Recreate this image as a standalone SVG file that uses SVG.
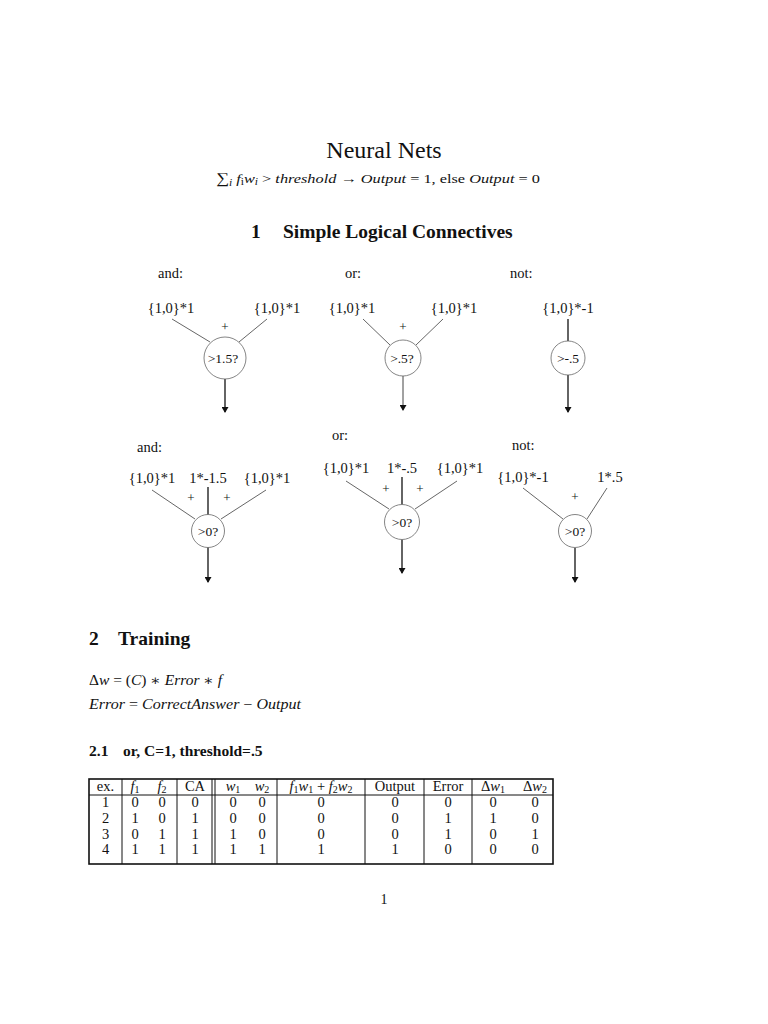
<svg xmlns="http://www.w3.org/2000/svg" width="768" height="1024" viewBox="0 0 768 1024">
<defs>
<style>
text{font-family:"Liberation Serif","DejaVu Serif",serif;fill:#111}
.lbl{font-size:14.5px;text-anchor:middle}
.ctr{font-size:13.5px;text-anchor:middle}
.cap{font-size:14.5px}
.plus{font-size:13px;text-anchor:middle}
.neu{fill:#fff;stroke:#666;stroke-width:0.8}
.in{stroke:#555;stroke-width:0.9;fill:none}
.vin{stroke:#111;stroke-width:1.3;fill:none}
.out{stroke:#111;stroke-width:1.3;fill:none;marker-end:url(#ah)}
.h1{font-size:19.5px;font-weight:bold}
.h2{font-size:15.5px;font-weight:bold}
.m{font-style:italic}
.tb{font-size:14.5px;text-anchor:middle}
.grid{stroke:#111;stroke-width:1;fill:none}
</style>
<marker id="ah" markerWidth="6" markerHeight="7" refX="5" refY="3.5" orient="auto" markerUnits="userSpaceOnUse">
<path d="M0,0 L6,3.5 L0,7 Z" fill="#111"/>
</marker>
</defs>
<rect width="768" height="1024" fill="#fff"/>

<text x="384" y="158" text-anchor="middle" font-size="24">Neural Nets</text>
<text x="216" y="183" font-size="13.5" textLength="324" lengthAdjust="spacingAndGlyphs"><tspan font-size="15">∑</tspan><tspan class="m" font-size="9.5" dy="3">i</tspan><tspan class="m" dy="-3"> f</tspan><tspan font-size="9.5" dy="2">i</tspan><tspan class="m" dy="-2">w</tspan><tspan class="m" font-size="9.5" dy="2">i</tspan><tspan dy="-2"> &gt; </tspan><tspan class="m">threshold</tspan><tspan> → </tspan><tspan class="m">Output</tspan><tspan> = 1, else </tspan><tspan class="m">Output</tspan><tspan> = 0</tspan></text>

<text class="h1" x="251" y="238">1</text>
<text class="h1" x="283" y="238">Simple Logical Connectives</text>

<!-- captions -->
<text class="cap" x="158" y="278">and:</text>
<text class="cap" x="345" y="278">or:</text>
<text class="cap" x="510" y="278">not:</text>
<text class="cap" x="137" y="452">and:</text>
<text class="cap" x="332" y="440">or:</text>
<text class="cap" x="512" y="450">not:</text>

<g id="connectors">
<line class="in" x1="172" y1="319" x2="210" y2="342"/>
<line class="in" x1="267" y1="319" x2="239" y2="342"/>
<line class="out" x1="225" y1="379" x2="225" y2="412"/>

<line class="in" x1="363" y1="319" x2="390" y2="345"/>
<line class="in" x1="443" y1="319" x2="416" y2="345"/>
<line class="out" x1="403" y1="376" x2="403" y2="410" style="stroke:#444;stroke-width:1"/>

<line class="vin" x1="568" y1="319" x2="568" y2="341"/>
<line class="out" x1="568" y1="375" x2="568" y2="412"/>

<line class="in" x1="152" y1="490" x2="195" y2="519"/>
<line class="in" x1="266" y1="490" x2="221" y2="519"/>
<line class="vin" x1="208" y1="487" x2="208" y2="515"/>
<line class="out" x1="208" y1="547" x2="208" y2="582"/>

<line class="in" x1="346" y1="481" x2="389" y2="509"/>
<line class="in" x1="457" y1="481" x2="415" y2="509"/>
<line class="vin" x1="402" y1="477" x2="402" y2="504.5"/>
<line class="out" x1="402" y1="539.5" x2="402" y2="573"/>

<line class="in" x1="523" y1="488" x2="563" y2="519"/>
<line class="in" x1="607" y1="488" x2="587" y2="519"/>
<line class="out" x1="575" y1="548" x2="575" y2="582"/>
</g>

<g id="and1">
<text class="lbl" x="171" y="313">{1,0}*1</text>
<text class="lbl" x="277" y="313">{1,0}*1</text>
<text class="plus" x="225" y="331">+</text>
<circle class="neu" cx="225" cy="358" r="21"/>
<text class="ctr" x="223" y="363">&gt;1.5?</text>
</g>
<g id="or1">
<text class="lbl" x="352" y="313">{1,0}*1</text>
<text class="lbl" x="454" y="313">{1,0}*1</text>
<text class="plus" x="403" y="331">+</text>
<circle class="neu" cx="403" cy="358" r="18"/>
<text class="ctr" x="402" y="363">&gt;.5?</text>
</g>
<g id="not1">
<text class="lbl" x="568" y="313">{1,0}*-1</text>
<circle class="neu" cx="568" cy="358" r="17"/>
<text class="ctr" x="568" y="363">&gt;-.5</text>
</g>

<g id="and2">
<text class="lbl" x="152" y="483">{1,0}*1</text>
<text class="lbl" x="208" y="483">1*-1.5</text>
<text class="lbl" x="267" y="483">{1,0}*1</text>
<text class="plus" x="191" y="502">+</text>
<text class="plus" x="227" y="502">+</text>
<circle class="neu" cx="208" cy="531" r="16.5"/>
<text class="ctr" x="208" y="535.5">&gt;0?</text>
</g>
<g id="or2">
<text class="lbl" x="346" y="473">{1,0}*1</text>
<text class="lbl" x="402" y="473">1*-.5</text>
<text class="lbl" x="460" y="473">{1,0}*1</text>
<text class="plus" x="386" y="493">+</text>
<text class="plus" x="420" y="493">+</text>
<circle class="neu" cx="402" cy="522" r="17.5"/>
<text class="ctr" x="402" y="526.5">&gt;0?</text>
</g>
<g id="not2">
<text class="lbl" x="523" y="482">{1,0}*-1</text>
<text class="lbl" x="610" y="482">1*.5</text>
<text class="plus" x="575" y="501">+</text>
<circle class="neu" cx="575" cy="531" r="16.5"/>
<text class="ctr" x="575" y="535.5">&gt;0?</text>
</g>

<text class="h1" x="89" y="645">2</text>
<text class="h1" x="118" y="645">Training</text>
<text x="89" y="685" font-size="14" textLength="133" lengthAdjust="spacingAndGlyphs">Δ<tspan class="m">w</tspan> = (<tspan class="m">C</tspan>) ∗ <tspan class="m">Error</tspan> ∗ <tspan class="m">f</tspan></text>
<text x="89" y="709" font-size="14" textLength="212" lengthAdjust="spacingAndGlyphs"><tspan class="m">Error</tspan> = <tspan class="m">CorrectAnswer</tspan> − <tspan class="m">Output</tspan></text>

<text class="h2" x="89" y="756">2.1</text>
<text class="h2" x="123" y="756">or, C=1, threshold=.5</text>

<g id="table">
<rect x="89" y="779" width="464" height="85" fill="none" stroke="#111" stroke-width="1.6"/>
<line class="grid" x1="89" y1="795" x2="553" y2="795"/>
<line class="grid" x1="122" y1="779" x2="122" y2="864"/>
<line class="grid" x1="177" y1="779" x2="177" y2="864"/>
<line class="grid" x1="212" y1="779" x2="212" y2="864"/>
<line class="grid" x1="215" y1="779" x2="215" y2="864"/>
<line class="grid" x1="277" y1="779" x2="277" y2="864"/>
<line class="grid" x1="365" y1="779" x2="365" y2="864"/>
<line class="grid" x1="424" y1="779" x2="424" y2="864"/>
<line class="grid" x1="472" y1="779" x2="472" y2="864"/>

<text class="tb" x="105.5" y="791">ex.</text>
<text class="tb" x="135" y="791"><tspan class="m">f</tspan><tspan font-size="10" dy="2">1</tspan></text>
<text class="tb" x="162" y="791"><tspan class="m">f</tspan><tspan font-size="10" dy="2">2</tspan></text>
<text class="tb" x="195" y="791">CA</text>
<text class="tb" x="233" y="791"><tspan class="m">w</tspan><tspan font-size="10" dy="2">1</tspan></text>
<text class="tb" x="262" y="791"><tspan class="m">w</tspan><tspan font-size="10" dy="2">2</tspan></text>
<text class="tb" x="321" y="791"><tspan class="m">f</tspan><tspan font-size="10" dy="2">1</tspan><tspan class="m" dy="-2">w</tspan><tspan font-size="10" dy="2">1</tspan><tspan dy="-2"> + </tspan><tspan class="m">f</tspan><tspan font-size="10" dy="2">2</tspan><tspan class="m" dy="-2">w</tspan><tspan font-size="10" dy="2">2</tspan></text>
<text class="tb" x="395" y="791">Output</text>
<text class="tb" x="448" y="791">Error</text>
<text class="tb" x="493" y="791">Δ<tspan class="m">w</tspan><tspan font-size="10" dy="2">1</tspan></text>
<text class="tb" x="535" y="791">Δ<tspan class="m">w</tspan><tspan font-size="10" dy="2">2</tspan></text>

<g class="rows">
<text class="tb" x="105.5" y="807">1</text><text class="tb" x="135" y="807">0</text><text class="tb" x="162" y="807">0</text><text class="tb" x="195" y="807">0</text><text class="tb" x="233" y="807">0</text><text class="tb" x="262" y="807">0</text><text class="tb" x="321" y="807">0</text><text class="tb" x="395" y="807">0</text><text class="tb" x="448" y="807">0</text><text class="tb" x="493" y="807">0</text><text class="tb" x="535" y="807">0</text>
<text class="tb" x="105.5" y="823">2</text><text class="tb" x="135" y="823">1</text><text class="tb" x="162" y="823">0</text><text class="tb" x="195" y="823">1</text><text class="tb" x="233" y="823">0</text><text class="tb" x="262" y="823">0</text><text class="tb" x="321" y="823">0</text><text class="tb" x="395" y="823">0</text><text class="tb" x="448" y="823">1</text><text class="tb" x="493" y="823">1</text><text class="tb" x="535" y="823">0</text>
<text class="tb" x="105.5" y="838.5">3</text><text class="tb" x="135" y="838.5">0</text><text class="tb" x="162" y="838.5">1</text><text class="tb" x="195" y="838.5">1</text><text class="tb" x="233" y="838.5">1</text><text class="tb" x="262" y="838.5">0</text><text class="tb" x="321" y="838.5">0</text><text class="tb" x="395" y="838.5">0</text><text class="tb" x="448" y="838.5">1</text><text class="tb" x="493" y="838.5">0</text><text class="tb" x="535" y="838.5">1</text>
<text class="tb" x="105.5" y="854">4</text><text class="tb" x="135" y="854">1</text><text class="tb" x="162" y="854">1</text><text class="tb" x="195" y="854">1</text><text class="tb" x="233" y="854">1</text><text class="tb" x="262" y="854">1</text><text class="tb" x="321" y="854">1</text><text class="tb" x="395" y="854">1</text><text class="tb" x="448" y="854">0</text><text class="tb" x="493" y="854">0</text><text class="tb" x="535" y="854">0</text>
</g>
</g>

<text x="384" y="904" text-anchor="middle" font-size="14">1</text>
</svg>
